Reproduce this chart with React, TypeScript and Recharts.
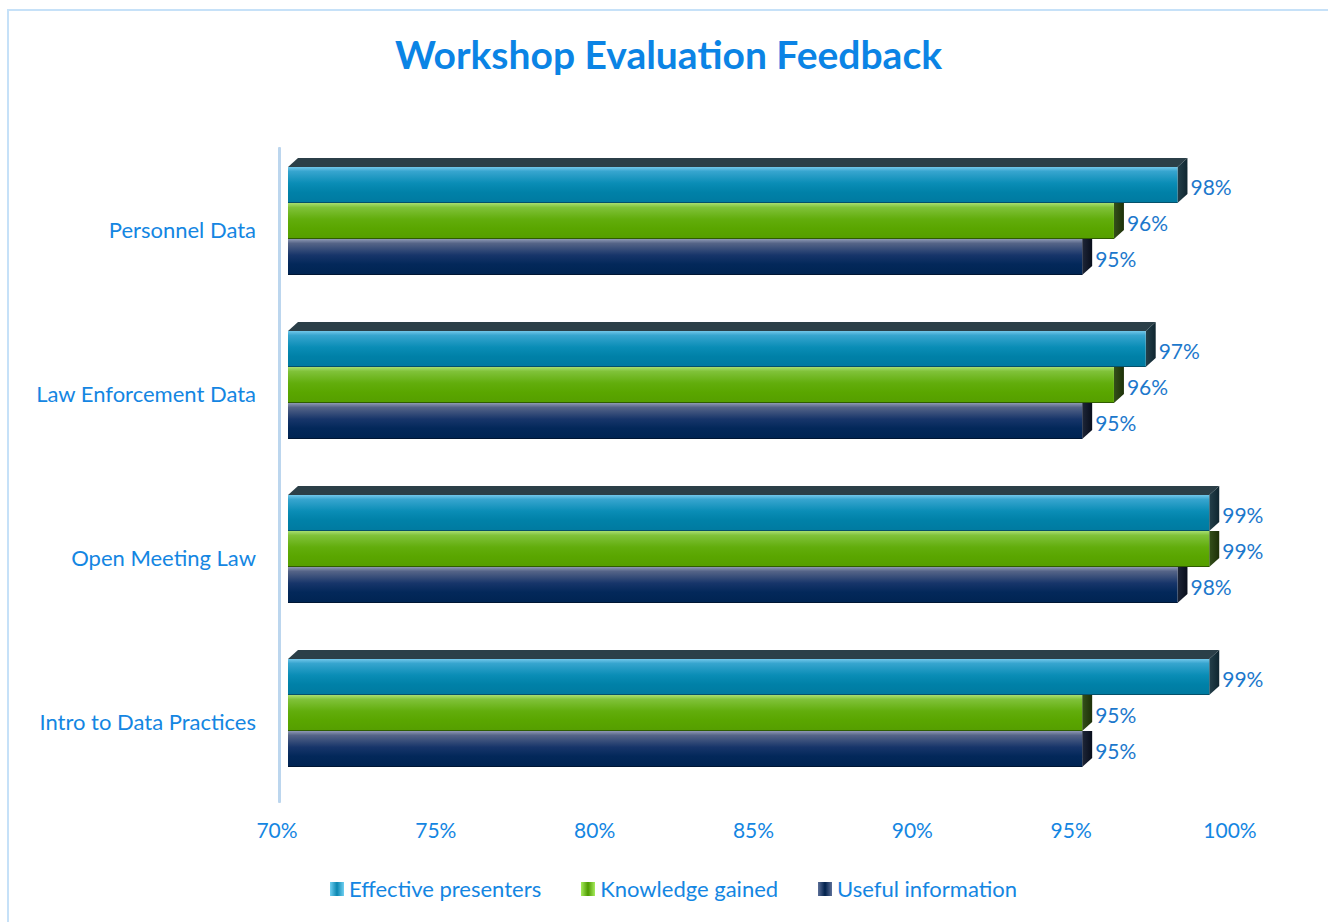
import React from 'react';
import { BarChart, Bar, XAxis, YAxis, LabelList } from 'recharts';

const categories = ['Personnel Data', 'Law Enforcement Data', 'Open Meeting Law', 'Intro to Data Practices'];
const effectivePresenters = [98, 97, 99, 99];
const knowledgeGained = [96, 96, 99, 95];
const usefulInformation = [95, 95, 98, 95];
const xTicks = [70, 75, 80, 85, 90, 95, 100];

const seriesNames = ['Effective presenters', 'Knowledge gained', 'Useful information'];
const seriesKeys = ['effective', 'knowledge', 'useful'];

const data = categories.map((name, i) => ({
  name,
  effective: effectivePresenters[i],
  knowledge: knowledgeGained[i],
  useful: usefulInformation[i],
}));

const FONT = 'Lato, "Open Sans", sans-serif';
const TEXT_BLUE = '#1486e2';
const LABEL_BLUE = '#1c78cc';

// 3D depth of the bars
const DX = 10;
const DY = -9;

const palette = [
  { stops: ['#72c7ea', '#37a5cf', '#0a8db6', '#0081a8', '#007aa0'], edge: '#05506a', top: '#2b3f48', side: ['#24404b', '#0f2630'], legend: ['#6fd0f2', '#0a86b0'] },
  { stops: ['#a8de70', '#80c23a', '#62ad0c', '#5aa600', '#559e00'], edge: '#2f5c00', top: '#2e4214', side: ['#34501a', '#1d3008'], legend: ['#a6ec5c', '#4e9a00'] },
  { stops: ['#8f99b4', '#556487', '#17356a', '#03285a', '#002452'], edge: '#001634', top: '#1b2436', side: ['#1e2638', '#080e1c'], legend: ['#5c6f98', '#00214c'] },
];

const make3DBar = (idx: number) => (props: any) => {
  const { x, y, width, height } = props;
  if (width == null || height == null) return null;
  const c = palette[idx];
  const end = x + width;
  const bottom = y + height;
  return (
    <g>
      {idx === 0 && (
        <polygon
          points={`${x},${y} ${x + DX},${y + DY} ${end + DX},${y + DY} ${end},${y}`}
          fill={c.top}
        />
      )}
      <polygon
        points={
          idx === 0
            ? `${end},${y} ${end + DX},${y + DY} ${end + DX},${bottom + DY} ${end},${bottom}`
            : `${end},${y} ${end + DX},${y} ${end + DX},${bottom + DY} ${end},${bottom}`
        }
        fill={`url(#side${idx})`}
      />
      <rect x={x} y={y} width={width} height={height} fill={`url(#front${idx})`} />
      <line x1={x} x2={end} y1={bottom - 0.5} y2={bottom - 0.5} stroke={c.edge} strokeWidth={1} />
    </g>
  );
};

const renderValueLabel = (props: any) => {
  const { x, y, width, height, value } = props;
  return (
    <text
      x={x + width + DX + 3}
      y={y + height / 2 + 1}
      fill={LABEL_BLUE}
      fontSize={21}
      fontFamily={FONT}
      dominantBaseline="central"
    >
      {value}%
    </text>
  );
};

const XTick = (props: any) => {
  const { x, y, payload } = props;
  return (
    <text x={x - 11} y={y + 43} textAnchor="middle" fill={TEXT_BLUE} fontSize={21} fontFamily={FONT}>
      {payload.value}%
    </text>
  );
};

const YTick = (props: any) => {
  const { x, y, payload } = props;
  return (
    <text x={x} y={y + 8} textAnchor="end" dominantBaseline="central" fill={TEXT_BLUE} fontSize={22} fontFamily={FONT}>
      {payload.value}
    </text>
  );
};

export default function App() {
  return (
    <div style={{ position: 'relative', width: 1328, height: 922, overflow: 'hidden', background: '#fff', fontFamily: FONT }}>
      <style>{'body{margin:0;overflow:hidden}'}</style>
      <div
        style={{
          position: 'absolute', left: 7, top: 9, width: 1340, height: 940,
          borderLeft: '2px solid #c6e1f8', borderTop: '2px solid #c6e1f8',
        }}
      />
      <div
        style={{
          position: 'absolute', top: 31, left: 0, width: 1337, textAlign: 'center',
          color: '#0b84e5', fontWeight: 700, fontSize: 39, fontFamily: FONT,
        }}
      >
        Workshop Evaluation Feedback
      </div>
      {/* value axis line */}
      <div style={{ position: 'absolute', left: 278, top: 147, width: 3, height: 656, background: '#bcd6ee', borderRadius: 1 }} />

      <div style={{ position: 'absolute', left: 0, top: 0 }}>
        <BarChart
          width={1328}
          height={922}
          data={data}
          layout="vertical"
          margin={{ top: 139, right: 87, bottom: 0, left: 8 }}
          barGap={0}
          barCategoryGap={28}
        >
          <defs>
            {palette.map((c, i) => (
              <linearGradient key={`f${i}`} id={`front${i}`} x1="0" y1="0" x2="0" y2="1">
                <stop offset="0%" stopColor={c.stops[0]} />
                <stop offset="12%" stopColor={c.stops[1]} />
                <stop offset="45%" stopColor={c.stops[2]} />
                <stop offset="70%" stopColor={c.stops[3]} />
                <stop offset="100%" stopColor={c.stops[4]} />
              </linearGradient>
            ))}
            {palette.map((c, i) => (
              <linearGradient key={`s${i}`} id={`side${i}`} x1="0" y1="0" x2="1" y2="0">
                <stop offset="0%" stopColor={c.side[0]} />
                <stop offset="100%" stopColor={c.side[1]} />
              </linearGradient>
            ))}
          </defs>
          <XAxis
            type="number"
            domain={[70, 100]}
            ticks={xTicks}
            axisLine={false}
            tickLine={false}
            tickSize={0}
            tickMargin={0}
            height={127}
            tick={<XTick />}
            interval={0}
          />
          <YAxis
            type="category"
            dataKey="name"
            width={280}
            axisLine={false}
            tickLine={false}
            tickSize={0}
            tickMargin={32}
            tick={<YTick />}
            interval={0}
          />
          {seriesKeys.map((k, i) => (
            <Bar key={k} dataKey={k} name={seriesNames[i]} shape={make3DBar(i)} isAnimationActive={false}>
              <LabelList dataKey={k} content={renderValueLabel} />
            </Bar>
          ))}
        </BarChart>
      </div>

      <div
        style={{
          position: 'absolute', top: 875, left: 0, width: 1347, display: 'flex', justifyContent: 'center',
          gap: 40, color: TEXT_BLUE, fontSize: 22, fontFamily: FONT,
        }}
      >
        {seriesNames.map((n, i) => (
          <div key={n} style={{ display: 'flex', alignItems: 'center' }}>
            <span
              style={{
                display: 'inline-block', width: 14, height: 14, marginRight: 5,
                background: `linear-gradient(to right, ${palette[i].legend[0]}, ${palette[i].legend[1]} 50%, ${palette[i].legend[0]})`,
              }}
            />
            <span>{n}</span>
          </div>
        ))}
      </div>
    </div>
  );
}
